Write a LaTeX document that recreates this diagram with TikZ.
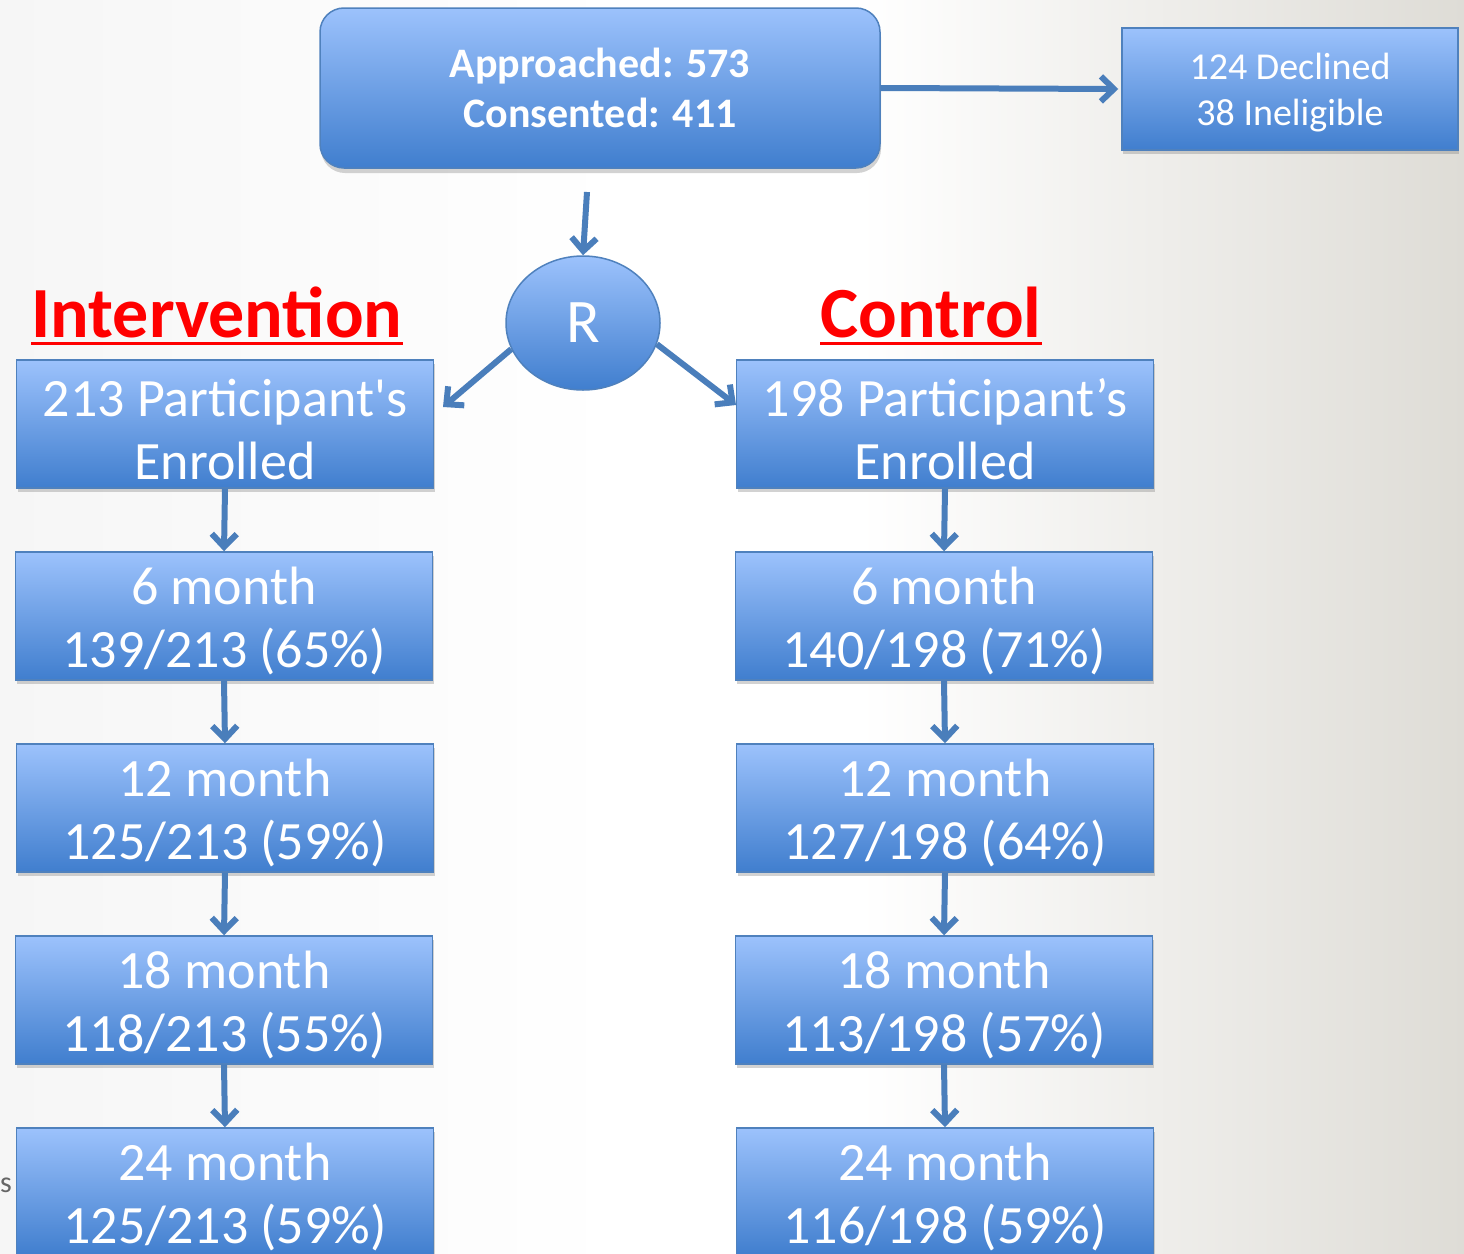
\documentclass[tikz,border=0pt]{standalone}
\usepackage{fontspec}
\setmainfont{Carlito}
\usetikzlibrary{arrows.meta,shadows,shapes.geometric}
\definecolor{boxtop}{RGB}{156,194,252}
\definecolor{boxbot}{RGB}{64,126,206}
\definecolor{edge}{RGB}{79,129,189}
\definecolor{arrowc}{RGB}{74,126,187}
\definecolor{bgleft}{RGB}{246,246,246}
\definecolor{bgright}{RGB}{222,220,214}
\definecolor{labred}{RGB}{255,0,0}
% extra room above the first line, to set the two lines a little lower in a box
\newcommand{\leadstrut}[1]{\rule{0pt}{#1}}
\tikzset{
  stagebox/.style={rectangle, draw=edge, line width=1.5pt, top color=boxtop, bottom color=boxbot,
    minimum width=417, minimum height=128, text=white, align=center, inner sep=0pt,
    font=\fontsize{54}{63}\selectfont,
    drop shadow={opacity=0.35, shadow xshift=1pt, shadow yshift=-4pt}},
  flow/.style={draw=arrowc, line width=6pt, -{Straight Barb[length=13pt,width=25pt,line width=6pt]}},
  armtitle/.style={text=labred, font=\fontsize{72}{80}\selectfont\bfseries, inner sep=0pt, anchor=base}
}
\begin{document}
\begin{tikzpicture}[x=1pt, y=-1pt]
  % page background: near white, greying towards the right edge
  \useasboundingbox (0,0) rectangle (1464,1253);
  \shade[left color=bgleft, right color=white] (-1,-1) rectangle (620,1254);
  \fill[white] (619,-1) rectangle (861,1254);
  \shade[left color=white, right color=bgright] (860,-1) rectangle (1465,1254);

  % stray letter at the left margin
  \node[anchor=base west, inner sep=0pt, text=black!60, font=\fontsize{30}{30}\selectfont] (margin) at (0,1192) {s};

  % enrolment
  \node[rectangle, rounded corners=24pt, draw=edge, line width=1.5pt, top color=boxtop, bottom color=boxbot,
        minimum width=560, minimum height=160, text=white, align=center, inner sep=0pt,
        font=\fontsize{42}{50}\selectfont\bfseries,
        drop shadow={opacity=0.35, shadow xshift=1pt, shadow yshift=-5pt}]
        (top) at (600,88) {Approached: 573\\Consented: 411};
  \node[rectangle, draw=edge, line width=1.5pt, top color=boxtop, bottom color=boxbot,
        minimum width=336, minimum height=122, text=white, align=center, inner sep=0pt,
        font=\fontsize{38}{46}\selectfont,
        drop shadow={opacity=0.35, shadow xshift=1pt, shadow yshift=-4pt}]
        (decl) at (1290,89) {\leadstrut{34pt}124 Declined\\38 Ineligible};

  % randomisation
  \node[ellipse, draw=edge, line width=1.5pt, top color=boxtop, bottom color=boxbot,
        minimum width=154, minimum height=134, inner sep=0pt, text=white,
        font=\fontsize{62}{62}\selectfont] (R) at (583,323) {R};

  % arm titles
  \node[armtitle] (tI) at (217,337) {Intervention};
  \node[armtitle] (tC) at (931,337) {Control};
  \draw[labred, line width=3pt] ([yshift=-6pt]tI.base west) -- ([yshift=-6pt]tI.base east);
  \draw[labred, line width=3pt] ([yshift=-6pt]tC.base west) -- ([yshift=-6pt]tC.base east);

  % intervention arm
  \node[stagebox] (i0) at (225,424) {\leadstrut{48pt}213 Participant\textquotesingle s\\Enrolled};
  \node[stagebox] (i1) at (224,616) {\leadstrut{48pt}6 month\\139/213 (65\%)};
  \node[stagebox] (i2) at (225,808) {\leadstrut{48pt}12 month\\125/213 (59\%)};
  \node[stagebox] (i3) at (224,1000) {\leadstrut{48pt}18 month\\118/213 (55\%)};
  \node[stagebox] (i4) at (225,1192) {\leadstrut{48pt}24 month\\125/213 (59\%)};

  % control arm
  \node[stagebox] (c0) at (945,424) {\leadstrut{48pt}198 Participant’s\\Enrolled};
  \node[stagebox] (c1) at (944,616) {\leadstrut{48pt}6 month\\140/198 (71\%)};
  \node[stagebox] (c2) at (945,808) {\leadstrut{48pt}12 month\\127/198 (64\%)};
  \node[stagebox] (c3) at (944,1000) {\leadstrut{48pt}18 month\\113/198 (57\%)};
  \node[stagebox] (c4) at (945,1192) {\leadstrut{48pt}24 month\\116/198 (59\%)};

  % connectors
  \coordinate (rin) at (587,192);
  \coordinate (iin) at (443,407);
  \coordinate (cin) at (736,405);
  \draw[flow] (top.east) -- ([xshift=-3pt]decl.west);
  \draw[flow] (rin) -- (R.north);
  \draw[flow] (R.-160) -- (iin);
  \draw[flow] (R.-16) -- (cin);
  \foreach \a/\b in {i0/i1,i1/i2,i2/i3,i3/i4,c0/c1,c1/c2,c2/c3,c3/c4}
    \draw[flow] (\a.south) -- (\b.north);
\end{tikzpicture}
\end{document}
